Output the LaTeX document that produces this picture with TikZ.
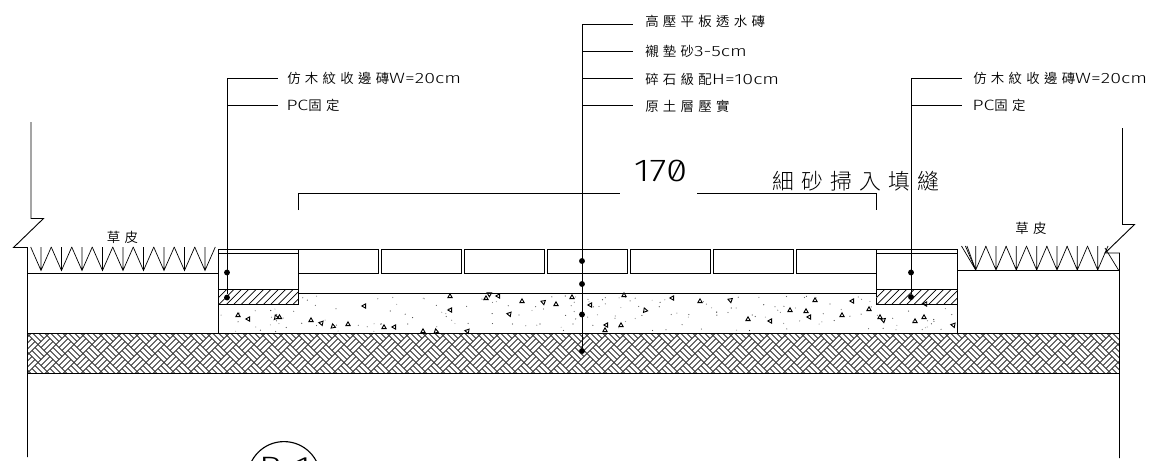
\documentclass[tikz,border=0pt]{standalone}
\usepackage{fontspec}
\setmainfont[FakeStretch=1.32]{Fira Sans Light}
\newfontfamily\cjk[Scale=0.9,LetterSpace=32]{Noto Sans CJK TC DemiLight}
\newfontfamily\cjkwide[LetterSpace=33]{Noto Sans CJK TC Light}
\newfontfamily\dimfont[Numbers=SlashedZero,FakeStretch=1.22]{Fira Sans Light}
\tikzset{
	cadline/.style={line width=0.65pt},
	thinline/.style={line width=0.5pt},
	leaderdot/.style={circle,fill=black,inner sep=0pt,minimum size=4.2pt},
	calltext/.style={anchor=west,inner sep=0pt,font=\fontsize{10.6}{12}\selectfont},
	grasstext/.style={inner sep=0pt,font=\fontsize{10.6}{12}\selectfont}
}
% one grass tuft: tip, height
\newcommand{\tuft}[3]{\draw[thinline] (#1-10.3,#2-#3)--(#1,#2)--(#1+10.3,#2-#3) (#1,#2-#3)--(#1,#2);}
\begin{document}
\begin{tikzpicture}[x=0.025cm,y=-0.025cm,line join=miter,line cap=butt]
	\useasboundingbox (0,0) rectangle (1160,461);
	\clip (0,0) rectangle (1160,461);
	%woven soil band
	\begin{scope}
		\clip (27.5,333.5) rectangle (1119,373.5);
		\foreach \b in {-3,...,3}{
			\pgfmathsetmacro{\cy}{353.5+\b*9}
			\pgfmathtruncatemacro{\odd}{mod(abs(\b),2)}
			\foreach \a in {0,...,61}{
				\pgfmathsetmacro{\cx}{20+\a*18+\odd*9}
				\foreach \v in {-1,-0.333,0.333,1}{
					\ifnum\odd=0
						\draw[black!80,line width=0.62pt] (\cx-4.5+\v*4.5,\cy-4.5-\v*4.5)--(\cx+4.5+\v*4.5,\cy+4.5-\v*4.5);
					\else
						\draw[black!80,line width=0.62pt] (\cx-4.5-\v*4.5,\cy+4.5-\v*4.5)--(\cx+4.5-\v*4.5,\cy-4.5-\v*4.5);
					\fi
				}
			}
		}
	\end{scope}
	\draw[cadline] (27.5,333.5)--(1119,333.5) (27.5,373.5)--(1119,373.5);
	%hatch under the edging bricks
	\begin{scope}
		\clip (218,289.5) rectangle (298,304);
		\foreach \i in {0,...,14}
			\draw[thinline] (210+\i*7.4,306)--(228+\i*7.4,288);
	\end{scope}
	\begin{scope}
		\clip (876.5,289.5) rectangle (957,304);
		\foreach \i in {0,...,14}
			\draw[thinline] (868+\i*7.4,306)--(886+\i*7.4,288);
	\end{scope}
	%outer edges and break lines
	\draw[cadline] (31,122)--(31,218.5)--(43.5,218.5)--(13.5,247.5)--(27.5,247.5)--(27.5,457);
	\draw[cadline] (27.5,273.5)--(218,273.5);
	\draw[cadline] (1122.5,128)--(1122.5,224.5)--(1134.5,224.5)--(1105,253)--(1119.5,253)--(1119.5,458);
	\draw[cadline] (957,270.5)--(1119.5,270.5);
	%left edging brick
	\draw[cadline] (218,333)--(218,249.5)--(298,249.5)--(298,304)--(218,304);
	\draw[cadline] (218,253.5)--(298,253.5) (218,289.5)--(298,289.5);
	%right edging brick
	\draw[cadline] (957,333)--(957,249.5)--(876.5,249.5)--(876.5,304)--(957,304);
	\draw[cadline] (876.5,253.5)--(957,253.5) (876.5,289.5)--(957,289.5);
	%paving bricks
	\foreach \i in {0,...,6}
		\draw[cadline] (298+\i*83,249.5) rectangle (378+\i*83,273.5);
	\draw[cadline] (298,293.5)--(876.5,293.5);
	%grass
	\foreach \x in {41,61.5,82,102.5,123,143.5,164,184.5,205}
		\tuft{\x}{270.5}{23.5};
	\foreach \x in {975.7,996,1016.3,1036.7,1057,1077.3,1097.7}
		\tuft{\x}{270}{24};
	\draw[thinline] (961.5,246)--(975.7,270) (967,246)--(975.7,270) (1105,248)--(1118.5,270);
	%gravel triangles
	\pgfmathsetseed{1709}
	\foreach \px/\py/\ang in {238/315/0,248/319/90,276/317/20,279.5/317/0,311/320/0,321/323/80,333/326/10,348/324/0,364/306/90,384/327/0,394/327/90,423/331/0,436/331/10,450/296/0,450/310/90,467/331/80,486/298/0,489/294/60,498/296/90,509/314/80,522/301/0,543/302/70,556/304/0,572/297/0,590/305/90,605/330/0,606/325/90,621/325/0,624/295/0,645/310/20,672/298/90,700/301/0,730/300/70,748/319/0,770/321/90,790/310/0,815/300/0,806/311/0,809/317/90,842/315/0,852/301/90,869/309/0,880/317/0,883/320/70,925/304/90,915/321/0,924/317/0,953/325/80}
		\draw[cadline,rotate around={\ang:(\px,\py)}] (\px-2.2,\py+1.7)--(\px+2.2,\py+1.7)--(\px,\py-2.2)--cycle;
	\foreach \i in {1,...,180}{
		\pgfmathsetmacro{\dx}{220+rnd*735}
		\pgfmathsetmacro{\dy}{295+rnd*37}
		\pgfmathsetmacro{\tone}{30+rnd*50}
		\ifdim\dx pt<298pt
			\pgfmathsetmacro{\dy}{306+rnd*26}
		\fi
		\ifdim\dx pt>877pt
			\pgfmathsetmacro{\dy}{306+rnd*26}
		\fi
		\fill[black!\tone] (\dx,\dy) circle (0.6);
	}
	%call-out labels
	\node[calltext] (lblmA) at (645,21) {{\cjk 高壓平板透水磚}};
	\node[calltext] (lblmB) at (645,51) {{\cjk 襯墊砂}3-5cm};
	\node[calltext] (lblmC) at (645,79.5) {{\cjk 碎石級配}H=10cm};
	\node[calltext] (lblmD) at (645,106) {{\cjk 原土層壓實}};
	\node[calltext] (lbllA) at (287,78) {{\cjk 仿木紋收邊磚}W=20cm};
	\node[calltext] (lbllB) at (286,105.5) {PC{\cjk 固定}};
	\node[calltext] (lblrA) at (973,78) {{\cjk 仿木紋收邊磚}W=20cm};
	\node[calltext] (lblrB) at (972,105.5) {PC{\cjk 固定}};
	\node[grasstext] (grassl) at (122.5,237) {{\cjk 草皮}};
	\node[grasstext] (grassr) at (1031,228) {{\cjk 草皮}};
	\node[inner sep=0pt,font=\fontsize{22.5}{24}\selectfont] (dimtxt) at (660.5,171) {\dimfont 170};
	\node[anchor=west,inner sep=0pt,font=\fontsize{15.5}{18}\selectfont] (sandtxt) at (772,181.5) {{\cjkwide 細砂掃入填縫}};
	%dimension line
	\coordinate (dimlA) at (298,193.5);
	\coordinate (dimlB) at (620,193.5);
	\coordinate (dimrA) at (697,193.5);
	\coordinate (dimrB) at (876.5,193.5);
	\draw[cadline] (298,210)--(dimlA)--(dimlB) (dimrA)--(dimrB)--(876.5,209.5);
	%leaders
	\node[leaderdot] (dotlA) at (227,272.5) {};
	\node[leaderdot] (dotlB) at (227,297.5) {};
	\node[leaderdot] (dotrA) at (911,272.5) {};
	\node[leaderdot] (dotrB) at (911,297) {};
	\node[leaderdot] (dotmA) at (582,261) {};
	\node[leaderdot] (dotmB) at (582,284) {};
	\node[leaderdot] (dotmC) at (582,314.5) {};
	\node[leaderdot] (dotmD) at (582,351) {};
	\coordinate (toplA) at (227,78);
	\coordinate (toplB) at (227,105);
	\coordinate (toprA) at (911,78);
	\coordinate (toprB) at (911,105);
	\coordinate (topmA) at (582,24);
	\coordinate (topmB) at (582,51);
	\coordinate (topmC) at (582,78);
	\coordinate (topmD) at (582,105);
	\draw[cadline] (toplA)--(dotlB) (toprA)--(dotrB) (topmA)--(dotmD);
	\foreach \from in {toplA,toplB}
		\draw[cadline] (\from)--++(51,0);
	\foreach \from in {toprA,toprB}
		\draw[cadline] (\from)--++(51,0);
	\foreach \from in {topmA,topmB,topmC,topmD}
		\draw[cadline] (\from)--++(51,0);
	%section mark, cut by the page edge
	\node[circle,draw,line width=0.8pt,minimum size=1.82cm,inner sep=0pt] (secmark) at (284,478) {};
	\node[anchor=north,inner sep=0pt,font=\fontsize{21}{24}\selectfont] (sectxt) at (285,457) {B-1};
\end{tikzpicture}
\end{document}
